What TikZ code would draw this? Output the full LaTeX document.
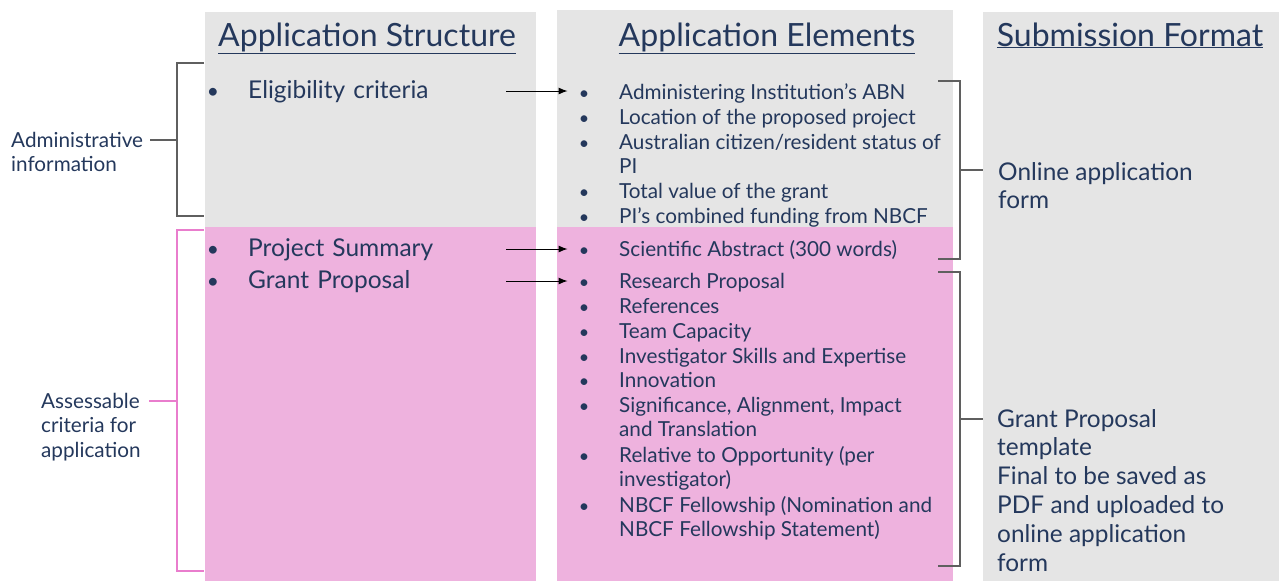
\documentclass[tikz,border=0pt]{standalone}
\usepackage{fontspec}
\setmainfont{Lato}
\usetikzlibrary{arrows.meta}

\definecolor{ink}{RGB}{36,56,92}
\definecolor{panel}{RGB}{229,229,229}
\definecolor{rose}{RGB}{238,178,222}
\definecolor{roseline}{RGB}{233,125,205}
\definecolor{brkline}{RGB}{95,95,95}

\begin{document}
\begin{tikzpicture}[x=1pt,y=-1pt,>={Latex[length=9pt,width=7pt]},
  every node/.style={inner sep=0pt,text=ink},
  head/.style={anchor=base,font=\fontsize{32}{36}\selectfont},
  big/.style={anchor=base west,align=left,font=\fontsize{24.4}{28.8}\selectfont},
  item/.style={anchor=base west,text width=258pt,align=left,font=\fontsize{24.5}{28.8}\selectfont},
  small/.style={anchor=base west,align=left,font=\fontsize{20.7}{24.8}\selectfont},
  side/.style={anchor=base west,align=left,font=\fontsize{20.7}{24.8}\selectfont},
  bigdot/.style={anchor=base,font=\fontsize{21}{21}\selectfont},
  dot/.style={anchor=base,font=\fontsize{18}{20}\selectfont},
  brk/.style={draw=brkline,line width=1.2pt},
  pinkbrk/.style={draw=roseline,line width=1.2pt},
  arr/.style={->,line width=1pt,black,shorten >=11pt}]

\useasboundingbox (0,0) rectangle (1279,581);

% columns
\fill[panel] (205,12) rectangle (536,227);
\fill[rose]  (205,227) rectangle (536,581);
\fill[panel] (557,10) rectangle (953,227);
\fill[rose]  (557,227) rectangle (953,581);
\fill[panel] (983,12) rectangle (1279,581);

% headings
\node[head] (hstruct) at (367,46) {\underline{Application Structure}};
\node[head] (helem) at (767,46) {\underline{Application Elements}};
\node[head] (hsub) at (1130,46) {\underline{Submission Format}};

% application structure
\node[bigdot] (s1b) at (213,98) {\textbullet};
\node[item] (s1) at (248,98) {Eligibility criteria};
\node[bigdot] (s2b) at (213,256) {\textbullet};
\node[item] (s2) at (248,256) {Project Summary};
\node[bigdot] (s3b) at (213,288) {\textbullet};
\node[item] (s3) at (248,288) {Grant Proposal};

% application elements (multi-line nodes sit on their last line)
\node[dot] (e1b) at (584,99) {\textbullet};
\node[small] (e1) at (619,99) {Administering Institution’s ABN};
\node[dot] (e2b) at (584,124) {\textbullet};
\node[small] (e2) at (619,124) {Location of the proposed project};
\node[dot] (e3b) at (584,149) {\textbullet};
\node[small] (e3) at (619,173.8) {Australian citizen/resident status of\\PI};
\node[dot] (e4b) at (584,198.5) {\textbullet};
\node[small] (e4) at (619,198.5) {Total value of the grant};
\node[dot] (e5b) at (584,223) {\textbullet};
\node[small] (e5) at (619,223) {PI’s combined funding from NBCF};
\node[dot] (e6b) at (584,256) {\textbullet};
\node[small] (e6) at (619,256) {Scientific Abstract (300 words)};
\node[dot] (e7b) at (584,288) {\textbullet};
\node[small] (e7) at (619,288) {Research Proposal};
\node[dot] (e8b) at (584,313) {\textbullet};
\node[small] (e8) at (619,313) {References};
\node[dot] (e9b) at (584,338) {\textbullet};
\node[small] (e9) at (619,338) {Team Capacity};
\node[dot] (e10b) at (584,363) {\textbullet};
\node[small] (e10) at (619,363) {Investigator Skills and Expertise};
\node[dot] (e11b) at (584,387.5) {\textbullet};
\node[small] (e11) at (619,387.5) {Innovation};
\node[dot] (e12b) at (584,412) {\textbullet};
\node[small] (e12) at (619,436.8) {Significance, Alignment, Impact\\and Translation};
\node[dot] (e13b) at (584,462) {\textbullet};
\node[small] (e13) at (619,486.8) {Relative to Opportunity (per\\investigator)};
\node[dot] (e14b) at (584,512) {\textbullet};
\node[small] (e14) at (619,536.8) {NBCF Fellowship (Nomination and\\NBCF Fellowship Statement)};

% submission format
\node[big] (online) at (998,208.8) {Online application\\form};
\node[big] (template) at (997,571) {Grant Proposal\\template\\Final to be saved as\\PDF and uploaded to\\online application\\form};

% left side
\node[side] (admin) at (11,171.8) {Administrative\\information};
\node[side] (assess) at (41,457.6) {Assessable\\criteria for\\application};

% arrows
\draw[arr] ([yshift=7]s1.base east) -- ([yshift=7]s1.base east -| e1b.west);
\draw[arr] ([yshift=7]s2.base east) -- ([yshift=7]s2.base east -| e6b.west);
\draw[arr] ([yshift=7]s3.base east) -- ([yshift=7]s3.base east -| e7b.west);

% brackets left
\coordinate (atop) at (204,63);
\coordinate (amid) at (177,140);
\coordinate (abot) at (204,216);
\draw[brk] (atop) -| (amid) |- (abot);
\draw[brk,shorten >=7pt] (amid) -- (amid -| admin.east);

\coordinate (ptop) at (204,230);
\coordinate (pmid) at (177,401);
\coordinate (pbot) at (204,571);
\draw[pinkbrk] (ptop) -| (pmid) |- (pbot);
\draw[pinkbrk,shorten >=8pt] (pmid) -- (pmid -| assess.east);

% brackets right
\coordinate (otop) at (938,81);
\coordinate (omid) at (960,170);
\coordinate (obot) at (938,259);
\coordinate (oend) at (983,170);
\draw[brk] (otop) -| (omid) |- (obot);
\draw[brk] (omid) -- (oend);

\coordinate (gtop) at (938,272);
\coordinate (gmid) at (960,419);
\coordinate (gbot) at (938,566);
\coordinate (gend) at (983,419);
\draw[brk] (gtop) -| (gmid) |- (gbot);
\draw[brk] (gmid) -- (gend);

\end{tikzpicture}
\end{document}
